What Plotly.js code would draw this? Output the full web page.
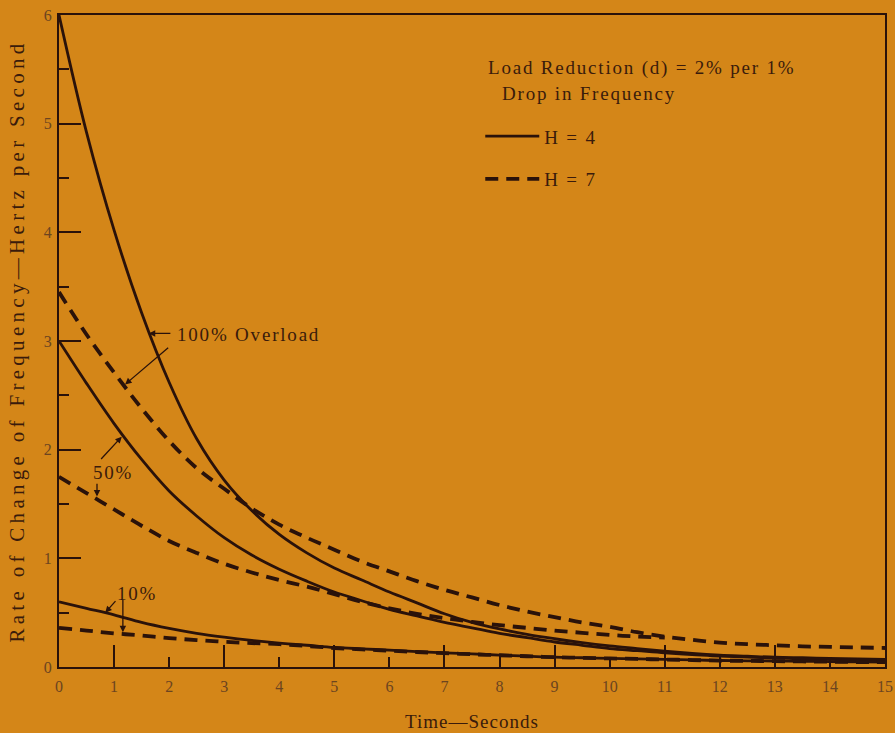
<!DOCTYPE html>
<html>
<head>
<meta charset="utf-8">
<script src="https://cdn.plot.ly/plotly-3.0.1.min.js"></script>
<style>
  html, body { margin: 0; padding: 0; background: rgb(212,134,24); }
  #chart { width: 895px; height: 733px; }
  .annotation-text, .legendtext { letter-spacing: 1.8px; }
  .xtitle, .x2title { letter-spacing: 1px; }
  .ytitle { letter-spacing: 4.3px; }
</style>
</head>
<body>
<div id="chart"></div>
<script>
// Time grid (seconds)
const timeSec = [0,0.5,1,1.5,2,2.5,3,3.5,4,4.5,5,5.5,6,6.5,7,7.5,8,8.5,9,9.5,10,10.5,11,11.5,12,12.5,13,13.5,14,14.5,15];
// H = 4 (solid)
const h4Overload100 = [6.0,4.92,4.02,3.26,2.62,2.1,1.72,1.44,1.22,1.05,0.91,0.80,0.69,0.59,0.49,0.41,0.35,0.30,0.26,0.225,0.195,0.17,0.145,0.125,0.11,0.10,0.09,0.085,0.08,0.075,0.07];
const h4Overload50  = [3.0,2.61,2.24,1.91,1.62,1.39,1.19,1.03,0.9,0.79,0.69,0.61,0.53,0.47,0.41,0.36,0.31,0.27,0.23,0.2,0.17,0.15,0.13,0.115,0.1,0.09,0.085,0.075,0.07,0.065,0.06];
const h4Overload10  = [0.6,0.54,0.48,0.41,0.355,0.31,0.275,0.245,0.22,0.2,0.18,0.167,0.155,0.142,0.13,0.12,0.11,0.1,0.09,0.085,0.08,0.075,0.07,0.065,0.06,0.057,0.055,0.052,0.05,0.047,0.045];
// H = 7 (dashed)
const h7Overload100 = [3.45,3.06,2.71,2.38,2.08,1.83,1.64,1.46,1.31,1.19,1.08,0.97,0.88,0.79,0.71,0.64,0.57,0.51,0.46,0.41,0.37,0.32,0.28,0.25,0.225,0.21,0.2,0.19,0.185,0.18,0.175];
const h7Overload50  = [1.75,1.6,1.45,1.3,1.16,1.05,0.95,0.87,0.80,0.74,0.67,0.6,0.54,0.49,0.45,0.415,0.385,0.36,0.335,0.315,0.295,0.28,0.27];
const h7Overload10  = [0.36,0.335,0.31,0.29,0.266,0.248,0.232,0.22,0.21,0.193,0.175,0.162,0.15,0.138,0.127,0.117,0.108,0.099,0.09,0.084,0.079,0.074,0.069,0.064,0.059,0.056,0.054,0.051,0.049,0.046,0.044];
// Axis ticks
const xLabelTicks = [0,1,2,3,4,5,6,7,8,9,10,11,12,13,14,15];
const xLongTicks = [1,3,5,7,9,11,13];
const xShortTicks = [2,4,6,8,10,12,14];
const yTicks = [0,1,2,3,4,5,6];

const INK = '#2a120a';
const TXT = '#3a1b0b';
const TICKTXT = '#6b4420';
const BG = 'rgb(212,134,24)';
const FONT = 'Liberation Serif, Times New Roman, serif';

const solid = {color: INK, width: 2.8, shape: 'spline', smoothing: 1};
const dashed = {color: INK, width: 3.8, dash: '13px,8px', shape: 'spline', smoothing: 1};

const traces = [
  {x: timeSec, y: h4Overload100, mode: 'lines', line: solid, name: 'H = 4', legendgroup: 'h4', showlegend: true, hoverinfo: 'skip'},
  {x: timeSec, y: h4Overload50, mode: 'lines', line: solid, name: 'H = 4', legendgroup: 'h4', showlegend: false, hoverinfo: 'skip'},
  {x: timeSec, y: h4Overload10, mode: 'lines', line: solid, name: 'H = 4', legendgroup: 'h4', showlegend: false, xaxis: 'x2', hoverinfo: 'skip'},
  {x: timeSec, y: h7Overload100, mode: 'lines', line: dashed, name: 'H = 7', legendgroup: 'h7', showlegend: true, hoverinfo: 'skip'},
  {x: timeSec.slice(0, h7Overload50.length), y: h7Overload50, mode: 'lines', line: dashed, name: 'H = 7', legendgroup: 'h7', showlegend: false, hoverinfo: 'skip'},
  {x: timeSec, y: h7Overload10, mode: 'lines', line: dashed, name: 'H = 7', legendgroup: 'h7', showlegend: false, xaxis: 'x2', hoverinfo: 'skip'}
];

function arrow(tailX, tailY, headX, headY) {
  return {x: headX, y: headY, ax: tailX, ay: tailY, xref: 'x', yref: 'y', axref: 'x', ayref: 'y',
          text: '', showarrow: true, arrowhead: 2, arrowsize: 1, arrowwidth: 1.3, arrowcolor: INK, standoff: 0};
}
function label(x, y, text) {
  return {x: x, y: y, xref: 'x', yref: 'y', text: text, showarrow: false, xanchor: 'left', yanchor: 'middle',
          font: {family: FONT, size: 19, color: TXT}};
}

const annotations = [
  {x: 0.517, y: 0.919, xref: 'paper', yref: 'paper', xanchor: 'left', yanchor: 'middle', showarrow: false,
   text: 'Load Reduction (d) = 2% per 1%', font: {family: FONT, size: 19, color: TXT}},
  {x: 0.534, y: 0.880, xref: 'paper', yref: 'paper', xanchor: 'left', yanchor: 'middle', showarrow: false,
   text: 'Drop in Frequency', font: {family: FONT, size: 19, color: TXT}},
  label(2.1, 3.06, '100% Overload'),
  label(0.58, 1.79, '50%'),
  label(1.02, 0.68, '10%'),
  arrow(2.05, 3.07, 1.63, 3.07),
  arrow(2.01, 2.95, 1.2, 2.6),
  arrow(0.74, 1.90, 1.14, 2.12),
  arrow(0.69, 1.70, 0.69, 1.57),
  arrow(1.05, 0.62, 0.84, 0.50),
  arrow(1.16, 0.63, 1.16, 0.32)
];

const layout = {
  width: 895, height: 733,
  paper_bgcolor: BG, plot_bgcolor: BG,
  margin: {l: 59, r: 10, t: 15, b: 66},
  font: {family: FONT, color: TXT},
  showlegend: true,
  legend: {x: 0.51, y: 0.843, xanchor: 'left', yanchor: 'top', bgcolor: 'rgba(0,0,0,0)',
           font: {family: FONT, size: 19, color: TXT}, tracegroupgap: 15, traceorder: 'grouped', itemwidth: 54},
  xaxis: {range: [0, 15], showline: true, linecolor: INK, linewidth: 2, mirror: true,
          ticks: 'inside', tickmode: 'array', tickvals: xLongTicks, ticklen: 22, tickwidth: 2, tickcolor: INK,
          showticklabels: false, showgrid: false, zeroline: false,
          minor: {tickmode: 'array', tickvals: xShortTicks, ticks: 'inside', ticklen: 10, tickwidth: 2, tickcolor: INK, showgrid: false}},
  xaxis2: {overlaying: 'x', matches: 'x', anchor: 'y', side: 'bottom', range: [0, 15],
           tickmode: 'array', tickvals: xLabelTicks, ticks: '', showline: false, showgrid: false, zeroline: false,
           tickfont: {family: FONT, size: 16, color: TICKTXT}, ticklabelstandoff: 8,
           title: {text: 'Time—Seconds', font: {family: FONT, size: 19, color: TXT}, standoff: 20}},
  yaxis: {range: [0, 6], showline: true, linecolor: INK, linewidth: 2, mirror: true,
          ticks: 'inside', tickmode: 'array', tickvals: yTicks, ticklen: 22, tickwidth: 2, tickcolor: INK,
          tickfont: {family: FONT, size: 16, color: TICKTXT}, ticklabelstandoff: 2,
          showgrid: false, zeroline: false,
          minor: {dtick: 0.5, ticks: 'inside', ticklen: 10, tickwidth: 2, tickcolor: INK, showgrid: false},
          title: {text: 'Rate of Change of Frequency—Hertz per Second', font: {family: FONT, size: 21, color: TXT}, standoff: 13}},
  annotations: annotations
};

Plotly.newPlot('chart', traces, layout, {staticPlot: true, displayModeBar: false});
</script>
</body>
</html>
